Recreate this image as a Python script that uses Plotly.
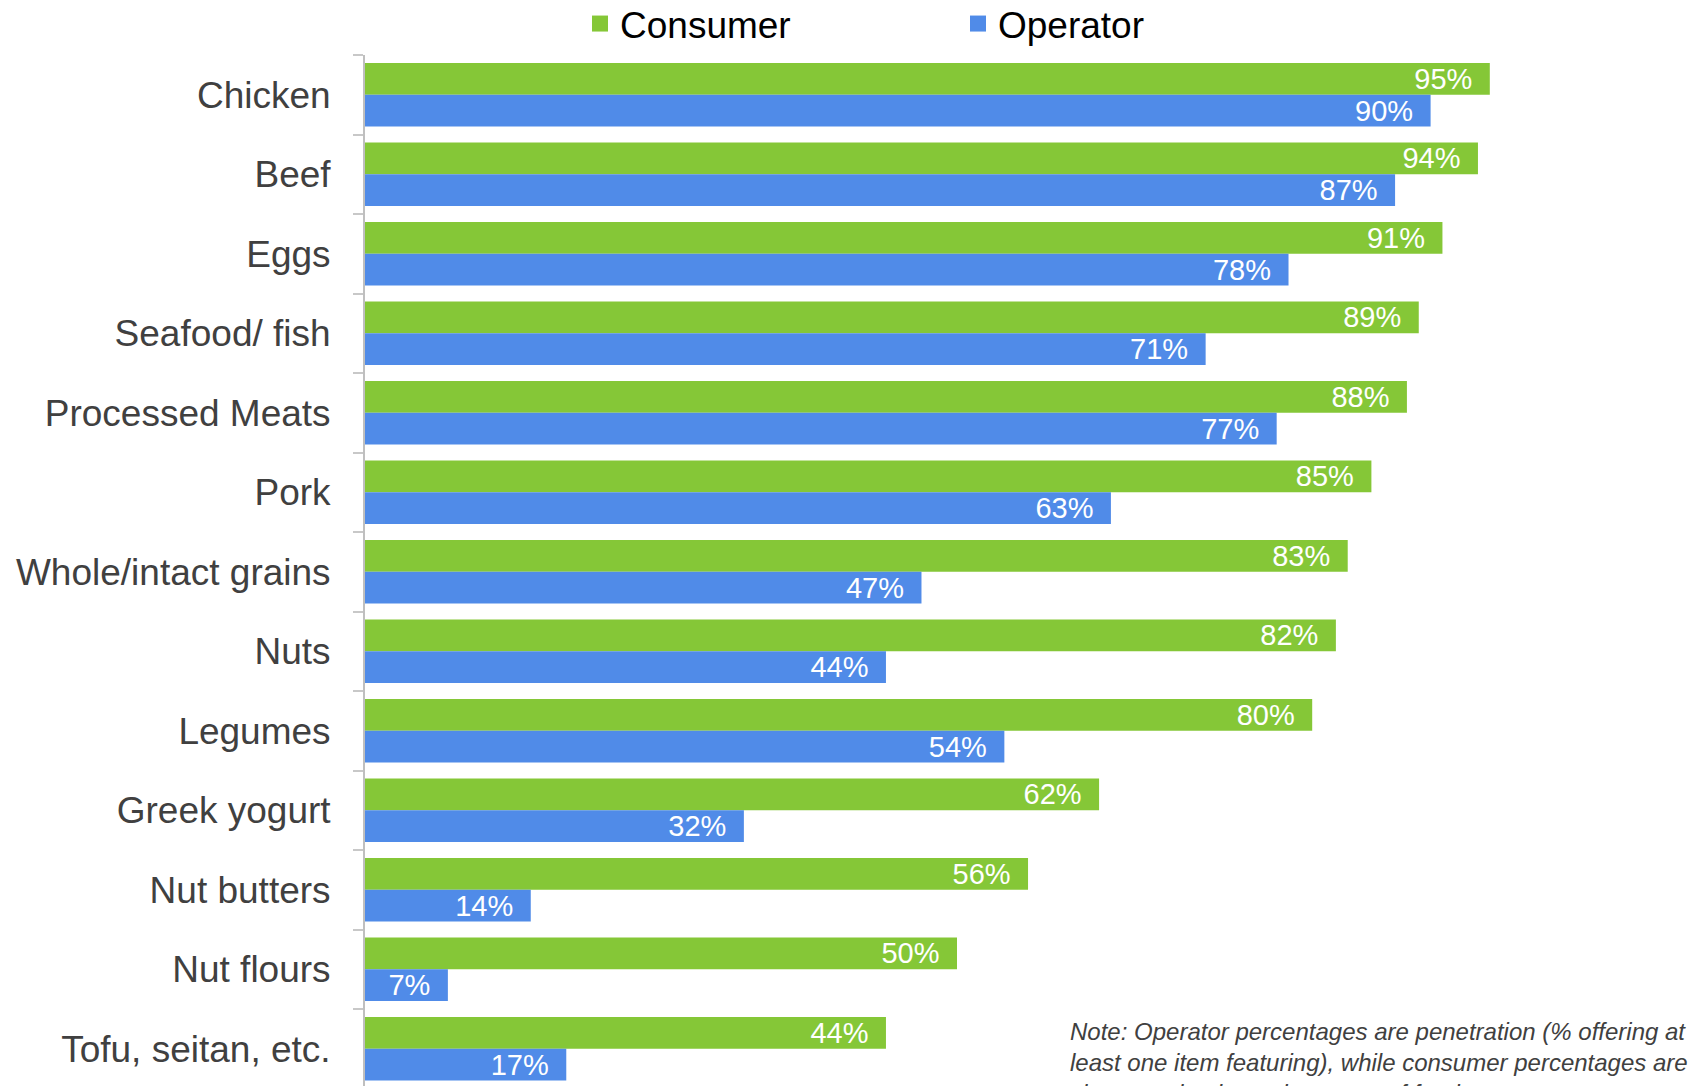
import plotly.graph_objects as go

# Share of respondents / operators featuring each food
categories = [
    "Chicken", "Beef", "Eggs", "Seafood/ fish", "Processed Meats", "Pork",
    "Whole/intact grains", "Nuts", "Legumes", "Greek yogurt", "Nut butters",
    "Nut flours", "Tofu, seitan, etc.",
]
consumer = [0.95, 0.94, 0.91, 0.89, 0.88, 0.85, 0.83, 0.82, 0.80, 0.62, 0.56, 0.50, 0.44]
operator = [0.90, 0.87, 0.78, 0.71, 0.77, 0.63, 0.47, 0.44, 0.54, 0.32, 0.14, 0.07, 0.17]

GREEN = "#85C737"
BLUE = "#508BE8"
FONT = "Arial, Liberation Sans, sans-serif"

W, H = 1702, 1086
M_L, M_R, M_T, M_B = 365, 153, 55, 0
plot_h = H - M_T - M_B
cat_px = 79.5
y_bottom = -0.5 + plot_h / cat_px

note = ("Note: Operator percentages are penetration (% offering at<br>"
        "least one item featuring), while consumer percentages are<br>"
        "shown as buying at least one of food")

fig = go.Figure()

for name, vals, color in [("Consumer", consumer, GREEN), ("Operator", operator, BLUE)]:
    fig.add_trace(go.Bar(
        name=name, y=categories, x=vals, orientation="h",
        marker=dict(color=color, line=dict(width=0)),
        texttemplate="%{x:.0%}\u2002",
        textposition="inside", insidetextanchor="end",
        textfont=dict(color="white", size=29, family=FONT),
        constraintext="none", textangle=0,
        showlegend=False, hoverinfo="skip",
    ))
    # legend swatch
    fig.add_trace(go.Scatter(
        name=name, x=[None], y=[None], mode="markers",
        marker=dict(symbol="square", size=16, color=color),
        showlegend=True, hoverinfo="skip",
    ))

fig.update_layout(
    width=W, height=H,
    margin=dict(l=M_L, r=M_R, t=M_T, b=M_B, pad=0, autoexpand=False),
    paper_bgcolor="white", plot_bgcolor="white",
    barmode="group", bargap=0.2, bargroupgap=0,
    font=dict(family=FONT, color="#404040"),
    legend=dict(
        orientation="h", x=(580 - M_L) / (W - M_L - M_R), xanchor="left",
        y=1 + 31 / plot_h, yanchor="middle",
        font=dict(size=37, color="black", family=FONT),
        entrywidth=333, itemwidth=30, bgcolor="rgba(0,0,0,0)",
        traceorder="normal",
    ),
    xaxis=dict(range=[0, 1], visible=False, fixedrange=True),
    yaxis=dict(
        categoryorder="array", categoryarray=categories,
        range=[y_bottom, -0.5], automargin=False,
        showline=True, linecolor="#BFBFBF", linewidth=2,
        ticks="outside", ticklen=10, tickcolor="#C8C8C8", tickwidth=2,
        tickson="boundaries", showgrid=False, zeroline=False,
        tickfont=dict(size=37, color="#404040", family=FONT),
        ticklabelstandoff=25,
    ),
    annotations=[dict(
        text=note, xref="paper", yref="paper",
        x=(1068 - M_L) / (W - M_L - M_R), xanchor="left",
        y=(H - 1016) / plot_h, yanchor="top",
        align="left", showarrow=False,
        font=dict(size=24, color="#404040", family=FONT, style="italic"),
    )],
)

fig.write_html("out.html")
